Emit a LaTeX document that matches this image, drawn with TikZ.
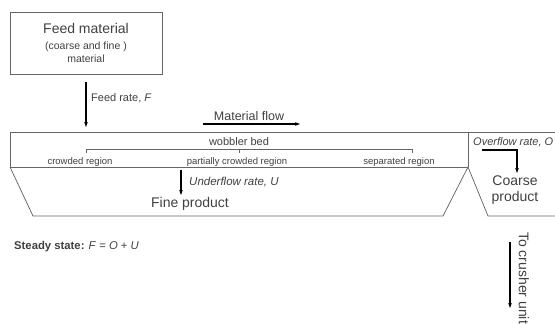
\documentclass[tikz,border=0pt]{standalone}
\usepackage{fontspec}
\setmainfont{Liberation Sans}
\usetikzlibrary{arrows.meta}
\definecolor{linegray}{HTML}{666666}
\definecolor{textgray}{HTML}{404040}
\begin{document}
\begin{tikzpicture}[x=1pt,y=-1pt,
  outline/.style={draw=linegray, line width=0.75pt},
  flowarrow/.style={draw=black, line width=1.3pt, line join=miter, -{Stealth[length=5pt,width=3.6pt]}},
  txt/.style={text=textgray, inner sep=0pt},
  bigtxt/.style={txt, font=\fontsize{14}{16}\selectfont},
  midtxt/.style={txt, font=\fontsize{11}{13}\selectfont},
  smalltxt/.style={txt, font=\fontsize{9.5}{11}\selectfont}]
\useasboundingbox (0,0) rectangle (555,324);
\clip (0,0) rectangle (555,324);

% feed box
\node[outline, minimum width=152pt, minimum height=62pt, inner sep=0pt] (feedbox) at (86,43) {};
\node[bigtxt] (feedtitle) at (86,28) {Feed material};
\node[txt, font=\fontsize{10.5}{12}\selectfont] (feedsub) at (86,47) {(coarse and fine )};
\node[txt, font=\fontsize{10.5}{12}\selectfont] (feedsubb) at (86,59) {material};

% feed arrow
\coordinate (feedstart) at (86,82);
\coordinate (feedend) at (86,127);
\draw[flowarrow] (feedstart) -- (feedend);
\node[midtxt, anchor=west] (feedrate) at (91,98) {Feed rate, \textit{F}};

% material flow
\node[txt, font=\fontsize{12.5}{14}\selectfont] (matflow) at (249,116) {Material flow};
\coordinate (mfstart) at (203,124);
\coordinate (mfend) at (300,124);
\draw[flowarrow] (mfstart) -- (mfend);

% bed and hoppers
\draw[outline] (555,132) -- (10,132) -- (10,167) -- (468,167);
\draw[outline] (468,132) -- (468,167);
\draw[outline] (10,167) -- (33,216) -- (443,216) -- (468,167) -- (488,216) -- (560,216);

% wobbler bracket
\draw[outline, line width=0.6pt] (86,153) -- (86,149) -- (412,149) -- (412,153);
\draw[outline, line width=0.6pt] (239,149) -- (239,153);
\node[midtxt] (wobbler) at (239,142) {wobbler bed};
\node[smalltxt] (crowded) at (80,162) {crowded region};
\node[smalltxt] (partial) at (237,162) {partially crowded region};
\node[smalltxt] (separated) at (399,162) {separated region};

% underflow
\coordinate (ufstart) at (181,170);
\coordinate (ufend) at (181,195);
\draw[flowarrow] (ufstart) -- (ufend);
\node[txt, font=\fontsize{11.5}{13}\selectfont\itshape, anchor=west] (underflow) at (189,182) {Underflow rate, U};
\node[bigtxt] (fine) at (190,204) {Fine product};

% overflow
\node[midtxt, font=\fontsize{11}{13}\selectfont\itshape, anchor=west] (overflow) at (473,142) {Overflow rate, O};
\coordinate (ofstart) at (482,150);
\coordinate (ofcorner) at (517,150);
\coordinate (ofend) at (517,173);
\draw[flowarrow] (ofstart) -- (ofcorner) -- (ofend);
\node[bigtxt, align=center] (coarse) at (515,190) {Coarse\\product};

% steady state
\node[txt, font=\fontsize{11.3}{13}\selectfont, anchor=west] (steady) at (14,247) {\textbf{Steady state:} \textit{F} = \textit{O} + \textit{U}};

% to crusher
\node[bigtxt, rotate=-90, anchor=west] (crusher) at (524,232) {To crusher unit};
\coordinate (crstart) at (510,242);
\coordinate (crend) at (510,308);
\draw[flowarrow] (crstart) -- (crend);
\end{tikzpicture}
\end{document}
